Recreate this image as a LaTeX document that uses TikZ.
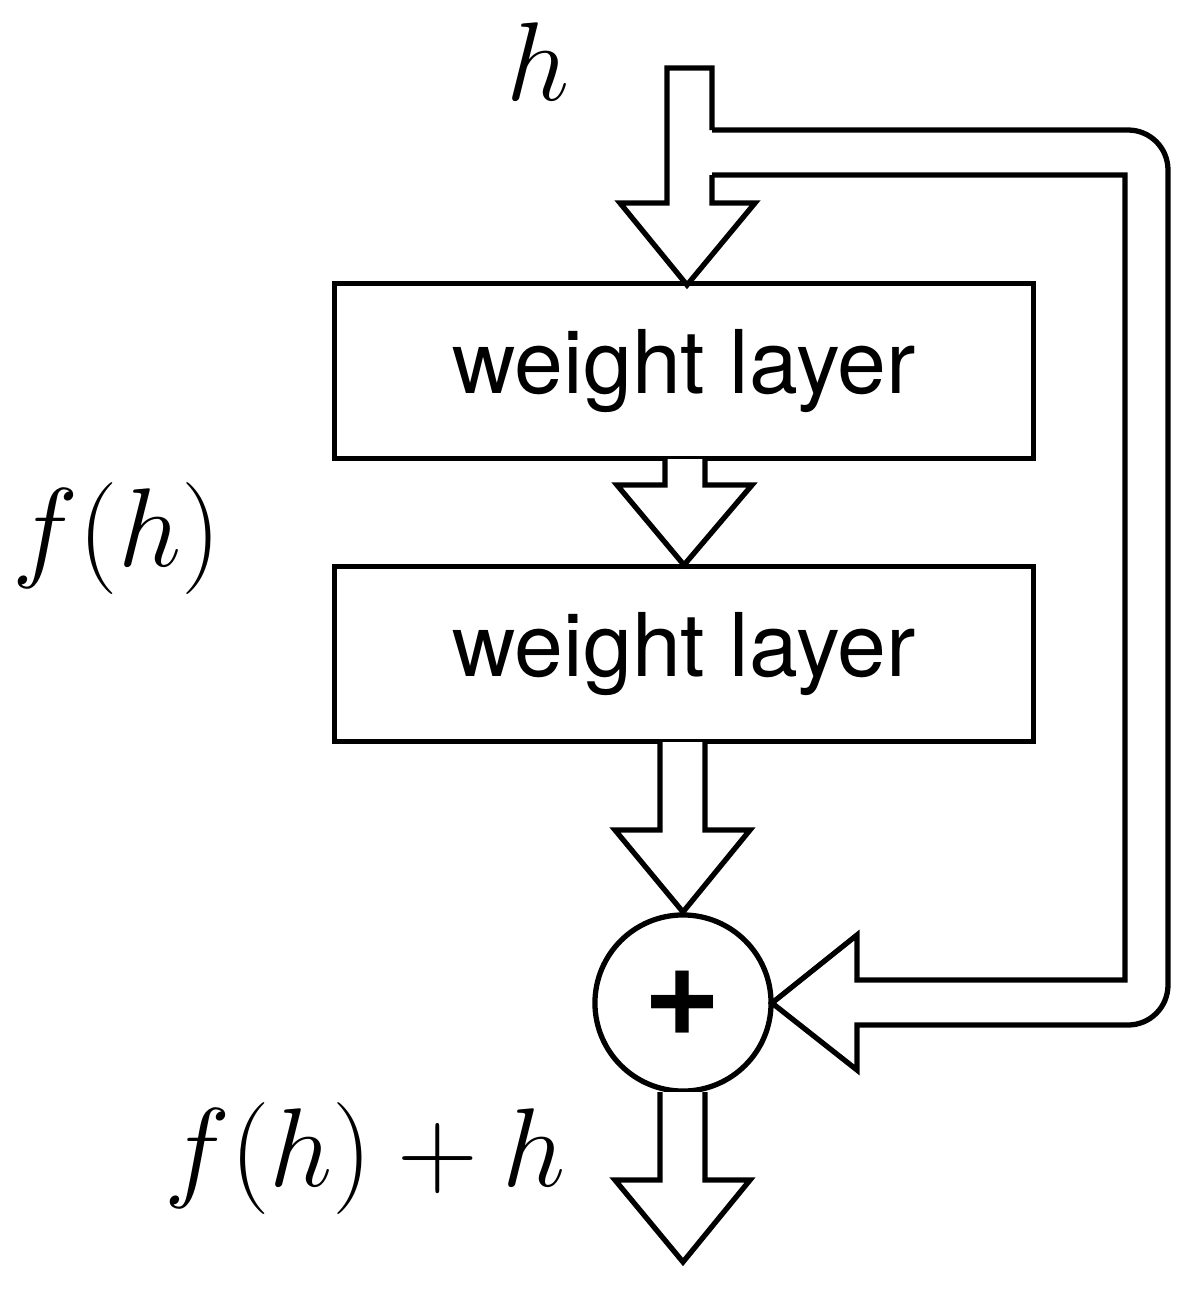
\documentclass[tikz,border=0pt]{standalone}
\usepackage{fontspec}
\setmainfont{TeX Gyre Heros}
\begin{document}
\begin{tikzpicture}[x=0.01cm,y=-0.01cm,line width=1.5pt,line join=miter,
  layer/.style={draw,rectangle,minimum width=6.98cm,minimum height=1.75cm,font=\fontsize{25}{30}\selectfont},
  lbl/.style={font=\fontsize{24}{28}\selectfont,scale=1.28}]
\useasboundingbox (0,0) rectangle (1201,1293);
% boxes and adder
\node[layer] (w1) at (684,371) {weight layer};
\node[layer] (w2) at (684,654) {weight layer};
\node[draw,circle,minimum size=1.76cm,inner sep=0pt,font=\fontsize{38}{40}\selectfont\bfseries] (add) at (683,1003) {+};
% labels
\node[lbl] (hin) at (538,62) {$h$};
\node[lbl] (fh) at (117,538) {$f(h)$};
\node[lbl] (fhh) at (365,1158) {$f(h)+h$};
% input arrow, open on the right for the skip pipe
\fill[white] (667,68) -- (712,68) -- (712,203) -- (755,203) -- (687,285) -- (620,203) -- (667,203) -- cycle;
\draw (712,130) -- (712,68) -- (667,68) -- (667,203) -- (620,203) -- (687,285) -- (755,203) -- (712,203) -- (712,175);
% skip pipe
\draw[fill=white] (712,130) -- (1128,130) to[out=0,in=90] (1168,170) -- (1168,985) to[out=-90,in=0] (1128,1025)
  -- (857,1025) -- (857,1070) -- (772,1003) -- (857,935) -- (857,980) -- (1125,980) -- (1125,175) -- (712,175);
% arrow between layers
\draw[fill=white] (665,459) -- (665,485) -- (617,485) -- (684,565) -- (752,485) -- (705,485) -- (705,459);
% arrow into adder
\draw[fill=white] (660,742) -- (660,830) -- (615,830) -- (683,912) -- (750,830) -- (705,830) -- (705,742);
% output arrow
\draw[fill=white] (660,1092) -- (660,1180) -- (615,1180) -- (683,1262) -- (750,1180) -- (705,1180) -- (705,1092);
\end{tikzpicture}
\end{document}
